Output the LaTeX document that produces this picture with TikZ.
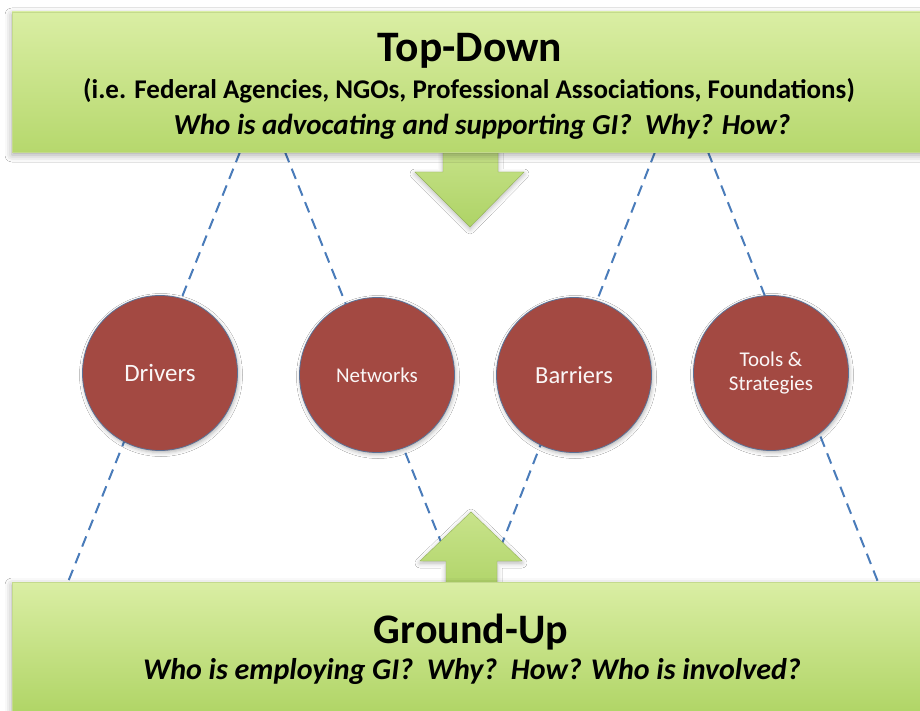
\documentclass[tikz,border=0pt]{standalone}
\usepackage{fontspec}
\setmainfont{Carlito}
\usetikzlibrary{shadows.blur}

\definecolor{boxtop}{HTML}{DAEEA4}
\definecolor{boxbottom}{HTML}{B6D86D}
\definecolor{groundbottom}{HTML}{AAD15D}
\definecolor{arrowgreen}{HTML}{AED366}
\definecolor{circlered}{HTML}{A34942}
\definecolor{circleline}{HTML}{5B7196}
\definecolor{linkblue}{HTML}{4A7CBA}

\tikzset{
  levelbox/.style={rectangle, minimum width=925pt, top color=boxtop, bottom color=boxbottom,
    draw=boxbottom!80!black!30!boxtop, line width=0.6pt,
    blur shadow={shadow xshift=0pt, shadow yshift=-3pt, shadow blur radius=7pt, shadow opacity=35}},
  hub/.style={circle, minimum size=155pt, inner sep=0pt, fill=circlered, draw=circleline,
    line width=0.8pt, text=white!95!circlered, align=center,
    blur shadow={shadow xshift=1pt, shadow yshift=-2pt, shadow blur radius=4pt, shadow opacity=30}},
  link/.style={linkblue, line width=2pt, dash pattern=on 11pt off 7pt},
  bigarrow/.style={top color=boxtop!60!arrowgreen, bottom color=arrowgreen, draw=arrowgreen!85!black, line width=0.4pt,
    blur shadow={shadow xshift=0pt, shadow yshift=-2pt, shadow blur radius=5pt, shadow opacity=30}}
}

\begin{document}
\begin{tikzpicture}[x=1pt,y=-1pt]
\useasboundingbox (0,0) rectangle (920,711);
\fill[white] (0,0) rectangle (920,711);

% ends of the dashed links
\coordinate (t1) at (240,152);  \coordinate (b1) at (68,582);
\coordinate (t2) at (285,152);  \coordinate (b2) at (457,582);
\coordinate (t3) at (655,152);  \coordinate (b3) at (487,582);
\coordinate (t4) at (708,152);  \coordinate (b4) at (878,582);

\foreach \i in {1,...,4}
  \draw[link] (t\i) -- (b\i);

% arrows between the two levels
\path[bigarrow] (443,140) -- (443,172) -- (415,172) -- (470,227) -- (524,172) -- (498,172) -- (498,140) -- cycle;
\path[bigarrow] (446,595) -- (446,561) -- (420,561) -- (471,512) -- (522,561) -- (497,561) -- (497,595) -- cycle;

\node[levelbox, minimum height=140pt] (topdown) at (474.5,82) {};
\node[levelbox, minimum height=150pt, bottom color=groundbottom] (groundup) at (474.5,657) {};

\begin{scope}
  \node[font=\fontsize{43.5}{48}\bfseries\selectfont] (toptitle) at (470,51) {Top-Down};
  \node[font=\fontsize{27}{30}\bfseries\selectfont] (topwho) at (469,91)
    {(i.e. Federal Agencies, NGOs, Professional Associations, Foundations)};
  \node[font=\fontsize{29}{32}\bfseries\itshape\selectfont] (topask) at (482,127)
    {Who is advocating and supporting GI?\ \ Why? How?};
  \node[font=\fontsize{42}{46}\bfseries\selectfont] (groundtitle) at (471,632) {Ground-Up};
  \node[font=\fontsize{30}{33}\bfseries\itshape\selectfont] (groundask) at (472,671)
    {Who is employing GI?\ \ Why?\ \ How? Who is involved?};
\end{scope}

\node[hub, font=\fontsize{25}{28}\selectfont] (drivers)  at (160,373) {Drivers};
\node[hub, font=\fontsize{21}{25}\selectfont] (networks) at (377,375) {Networks};
\node[hub, font=\fontsize{24.5}{28}\selectfont] (barriers) at (574,375) {Barriers};
\node[hub, font=\fontsize{21}{24}\selectfont] (tools)    at (771,373) {Tools \&\\Strategies};

\end{tikzpicture}
\end{document}
